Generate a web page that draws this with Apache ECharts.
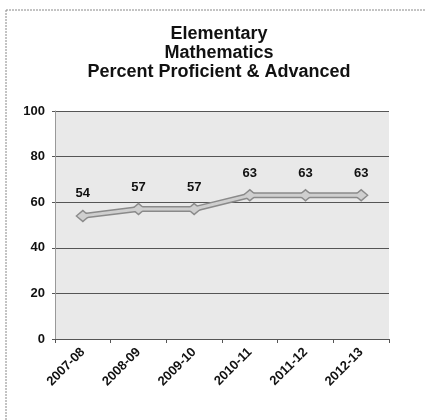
<!DOCTYPE html>
<html>
<head>
<meta charset="utf-8">
<script src="https://cdn.jsdelivr.net/npm/echarts@6/dist/echarts.min.js"></script>
<style>
html,body{margin:0;padding:0;background:#fff;}
#chart{width:426px;height:420px;}
</style>
</head>
<body>
<div id="chart"></div>
<script>
const titleLines = ['Elementary', 'Mathematics', 'Percent Proficient & Advanced'];
const categories = ['2007-08', '2008-09', '2009-10', '2010-11', '2011-12', '2012-13'];
const values = [54, 57, 57, 63, 63, 63];
const yTicks = [0, 20, 40, 60, 80, 100];

const chart = echarts.init(document.getElementById('chart'), null, {renderer: 'canvas'});
const font = 'Liberation Sans, Arial, sans-serif';
chart.setOption({
  backgroundColor: '#fff',
  animation: false,
  title: {
    text: titleLines.join('\n'),
    left: 214, top: 20, textAlign: 'center',
    textStyle: {fontFamily: font, fontWeight: 'bold', fontSize: 18, lineHeight: 19, color: '#111'}
  },
  graphic: [
    {type: 'line', shape: {x1: 6, y1: 10, x2: 426, y2: 10}, style: {stroke: '#888', lineWidth: 1, lineDash: [2, 1]}},
    {type: 'line', shape: {x1: 6, y1: 10, x2: 6, y2: 420}, style: {stroke: '#888', lineWidth: 1, lineDash: [2, 1]}}
  ],
  grid: {left: 55, right: 37, top: 111, bottom: 81, show: true, backgroundColor: '#e9e9e9', borderWidth: 0},
  xAxis: {
    type: 'category', data: categories, boundaryGap: true,
    axisLine: {show: true, lineStyle: {color: '#555', width: 1}},
    axisTick: {show: true, length: 4, lineStyle: {color: '#555'}},
    axisLabel: {rotate: 45, margin: 11, fontFamily: font, fontWeight: 'bold', fontSize: 13, color: '#111'}
  },
  yAxis: {
    type: 'value', min: yTicks[0], max: yTicks[yTicks.length - 1], interval: 20,
    axisLine: {show: true, lineStyle: {color: '#999', width: 1}},
    axisTick: {show: true, length: 3, lineStyle: {color: '#555'}},
    splitLine: {show: true, lineStyle: {color: '#555', width: 1}},
    axisLabel: {margin: 10, fontFamily: font, fontWeight: 'bold', fontSize: 13, color: '#111'}
  },
  series: [
    {
      type: 'line', data: values, z: 2,
      lineStyle: {color: '#8a8a8a', width: 6},
      symbol: 'diamond', symbolSize: [15, 13],
      itemStyle: {color: '#8a8a8a'},
      label: {show: false}
    },
    {
      type: 'line', data: values, z: 3,
      lineStyle: {color: '#cfcfcf', width: 3},
      symbol: 'diamond', symbolSize: [11, 9],
      itemStyle: {color: '#cfcfcf'},
      label: {show: true, position: 'top', distance: 11, fontFamily: font, fontWeight: 'bold', fontSize: 13, color: '#111'}
    }
  ]
});
</script>
</body>
</html>
